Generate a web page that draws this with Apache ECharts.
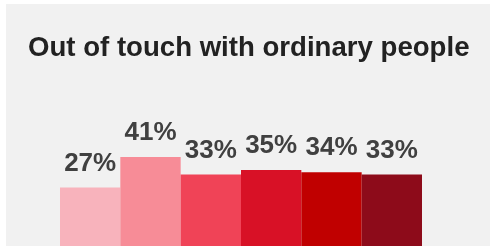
<!DOCTYPE html>
<html>
<head>
<meta charset="utf-8">
<script src="https://cdn.jsdelivr.net/npm/echarts@6/dist/echarts.min.js"></script>
<style>
  html, body { margin: 0; padding: 0; background: #ffffff; }
  #chart { position: absolute; left: 6px; top: 4px; width: 484px; height: 242px; }
</style>
</head>
<body>
<div id="chart"></div>
<script>
  // values
  var categories = ['1', '2', '3', '4', '5', '6']
  var values = [27, 41, 33, 35, 34, 33]
  var barColors = ['#f8b3bc', '#f78c97', '#f04357', '#d81126', '#c00000', '#8d0b1a']

  var chart = echarts.init(document.getElementById('chart'))

  chart.setOption({
    backgroundColor: '#f1f1f1',
    animation: false,
    title: {
      text: 'Out of touch with ordinary people',
      left: 17,
      top: 25,
      textStyle: {
        fontFamily: 'Liberation Sans, Arial, sans-serif',
        fontSize: 27.6,
        fontWeight: 'bold',
        color: '#222222'
      }
    },
    grid: {
      left: 54,
      width: 362,
      top: 25,
      bottom: 0
    },
    xAxis: {
      type: 'category',
      data: categories,
      show: false
    },
    yAxis: {
      type: 'value',
      min: 0,
      max: 100,
      show: false
    },
    series: [
      {
        type: 'bar',
        barCategoryGap: 0,
        data: values.map(function (v, i) {
          return { value: v, itemStyle: { color: barColors[i] } }
        }),
        label: {
          show: true,
          position: 'top',
          distance: 11,
          formatter: '{c}%',
          fontFamily: 'Liberation Sans, Arial, sans-serif',
          fontSize: 26,
          fontWeight: 'bold',
          color: '#404040'
        }
      }
    ]
  })
</script>
</body>
</html>
